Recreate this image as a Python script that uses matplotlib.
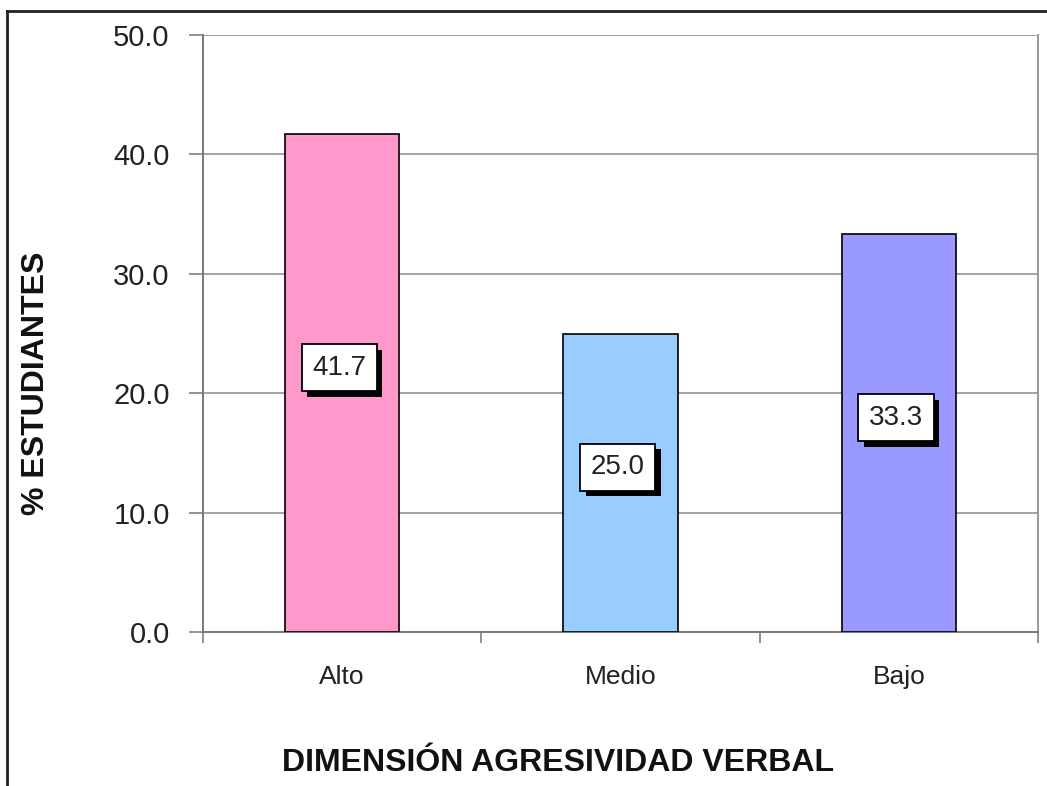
import matplotlib.pyplot as plt
import matplotlib.patheffects as pe
from matplotlib.lines import Line2D

# datos ------------------------------------------------------
categorias = ['Alto', 'Medio', 'Bajo']
porcentajes = [41.7, 25.0, 33.3]
colores = ['#FF99CC', '#99CCFF', '#9999FF']
yticks = [0, 10, 20, 30, 40, 50]

plt.rcParams['font.family'] = ['Liberation Sans', 'DejaVu Sans']

fig = plt.figure(figsize=(10.47, 7.86), dpi=100)
ax = fig.add_axes([203 / 1047, 1 - 632 / 786, 835 / 1047, 597 / 786])

x = range(len(categorias))
ax.bar(x, porcentajes, width=0.41, color=colores, edgecolor='black', linewidth=1.2, zorder=3)

ax.set_xlim(-0.5, 2.5)
ax.set_ylim(0, 50)
ax.set_yticks(yticks)
ax.set_yticklabels([f'{v:.1f}' for v in yticks], fontsize=21, color='#222222')
ax.yaxis.grid(True, color='#8c8c8c', linewidth=1.1, zorder=0)

ax.set_xticks(list(x))
ax.set_xticklabels(categorias, fontsize=19, color='#222222')
ax.tick_params(axis='x', length=0, pad=24)
ax.set_xticks([-0.5, 0.5, 1.5, 2.5], minor=True)
ax.tick_params(axis='x', which='minor', length=8, color='#808080', width=1.2, direction='out')
ax.tick_params(axis='y', length=10, color='#808080', width=1.2, direction='out', pad=14)

for lado in ['left', 'bottom']:
    ax.spines[lado].set_color('#777777')
    ax.spines[lado].set_linewidth(1.4)
ax.spines['right'].set_color('#999999')
ax.spines['right'].set_linewidth(1.4)
ax.spines['top'].set_visible(False)

# etiquetas de valor con caja y sombra
for i, v in enumerate(porcentajes):
    t = ax.text(i - 0.01, v / 2 + 1.3, f'{v:.1f}', ha='center', va='center', fontsize=20,
                color='#222222', zorder=5,
                bbox=dict(boxstyle='square,pad=0.38', facecolor='white', edgecolor='black', linewidth=1.3))
    t.get_bbox_patch().set_path_effects([
        pe.SimplePatchShadow(offset=(4, -4), shadow_rgbFace='black', alpha=1.0),
        pe.Normal()])

fig.text(285 / 1047 + 545 / 2094, 1 - 763 / 786, 'DIMENSIÓN AGRESIVIDAD VERBAL',
         ha='center', va='center', fontsize=23, fontweight='bold', color='#111111')
fig.text(36 / 1047, 1 - 383 / 786, '% ESTUDIANTES', rotation=90,
         ha='center', va='center', fontsize=23, fontweight='bold', color='#111111')

# marco exterior
fig.add_artist(Line2D([7 / 1047, 7 / 1047], [0, 1 - 11 / 786], transform=fig.transFigure,
                      color='#222222', linewidth=2))
fig.add_artist(Line2D([7 / 1047, 1], [1 - 11 / 786, 1 - 11 / 786], transform=fig.transFigure,
                      color='#222222', linewidth=2))

fig.savefig('out.png', dpi=100)
